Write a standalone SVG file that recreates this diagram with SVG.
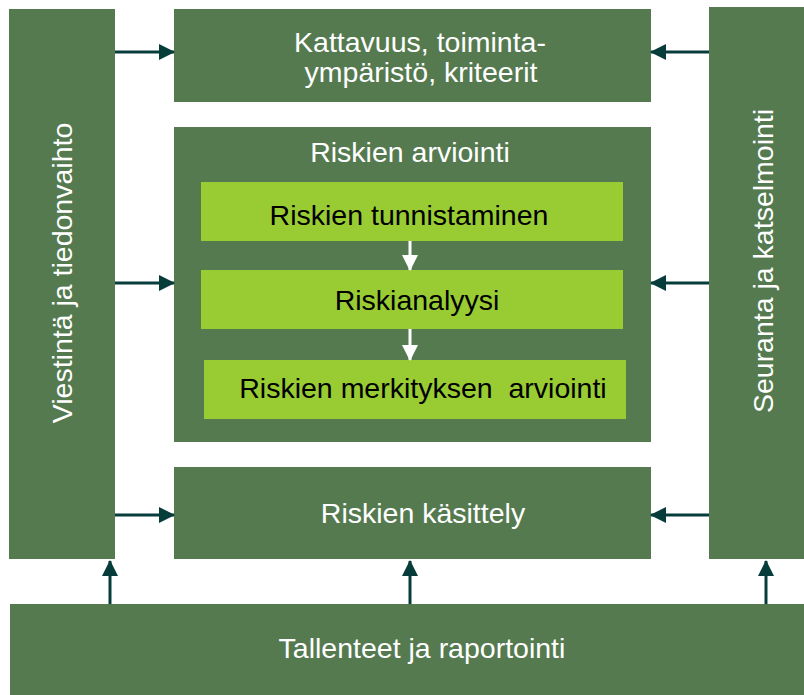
<svg xmlns="http://www.w3.org/2000/svg" width="804" height="695" viewBox="0 0 804 695">
  <style>
    .box { fill: #557a50; }
    .step { fill: #99cc33; }
    .lbl { font-family: "Liberation Sans", Arial, sans-serif; font-size: 28.5px; fill: #ffffff; text-anchor: middle; }
    .dark { fill: #000000; }
    .conn { stroke: #063c3a; stroke-width: 3; fill: none; }
    .flow { stroke: #ffffff; stroke-width: 3; fill: none; }
  </style>
  <defs>
    <marker id="ah" markerUnits="userSpaceOnUse" markerWidth="16" markerHeight="16" refX="15" refY="8" orient="auto">
      <path d="M0,0 L16,8 L0,16 Z" fill="#063c3a"/>
    </marker>
    <marker id="ahw" markerUnits="userSpaceOnUse" markerWidth="16" markerHeight="16" refX="15" refY="8" orient="auto">
      <path d="M0,0 L16,8 L0,16 Z" fill="#ffffff"/>
    </marker>
  </defs>
  <rect width="804" height="695" fill="#ffffff"/>

  <g id="viestinta">
    <rect class="box" x="9" y="9" width="106" height="550"/>
    <text class="lbl" transform="translate(72,273) rotate(-90)">Viestintä ja tiedonvaihto</text>
  </g>
  <g id="seuranta">
    <rect class="box" x="709" y="7" width="95" height="552"/>
    <text class="lbl" transform="translate(773,261) rotate(-90)">Seuranta ja katselmointi</text>
  </g>
  <g id="kattavuus">
    <rect class="box" x="174" y="9" width="477" height="93"/>
    <text class="lbl" x="420" y="52">Kattavuus, toiminta-</text>
    <text class="lbl" x="421" y="82">ympäristö, kriteerit</text>
  </g>
  <g id="arviointi">
    <rect class="box" x="174" y="127" width="477" height="315"/>
    <text class="lbl" x="410" y="162">Riskien arviointi</text>
  </g>
  <g id="tunnistaminen">
    <rect class="step" x="201" y="182" width="422" height="59"/>
    <text class="lbl dark" x="409" y="225">Riskien tunnistaminen</text>
  </g>
  <g id="analyysi">
    <rect class="step" x="201" y="270" width="422" height="59"/>
    <text class="lbl dark" x="417" y="310">Riskianalyysi</text>
  </g>
  <g id="merkitys">
    <rect class="step" x="204" y="360" width="422" height="59"/>
    <text class="lbl dark" x="423" y="398" xml:space="preserve">Riskien merkityksen  arviointi</text>
  </g>
  <g id="kasittely">
    <rect class="box" x="174" y="467" width="477" height="92"/>
    <text class="lbl" x="423" y="523">Riskien käsittely</text>
  </g>
  <g id="tallenteet">
    <rect class="box" x="10" y="604" width="794" height="91"/>
    <text class="lbl" x="422" y="658">Tallenteet ja raportointi</text>
  </g>

  <g id="connectors">
    <line class="conn" x1="115" y1="52" x2="174" y2="52" marker-end="url(#ah)"/>
    <line class="conn" x1="115" y1="283" x2="174" y2="283" marker-end="url(#ah)"/>
    <line class="conn" x1="115" y1="515" x2="174" y2="515" marker-end="url(#ah)"/>
    <line class="conn" x1="709" y1="52" x2="651" y2="52" marker-end="url(#ah)"/>
    <line class="conn" x1="709" y1="283" x2="651" y2="283" marker-end="url(#ah)"/>
    <line class="conn" x1="709" y1="515" x2="651" y2="515" marker-end="url(#ah)"/>
    <line class="conn" x1="110" y1="604" x2="110" y2="561" marker-end="url(#ah)"/>
    <line class="conn" x1="410" y1="604" x2="410" y2="561" marker-end="url(#ah)"/>
    <line class="conn" x1="766" y1="604" x2="766" y2="561" marker-end="url(#ah)"/>
    <line class="flow" x1="410" y1="241" x2="410" y2="270" marker-end="url(#ahw)"/>
    <line class="flow" x1="410" y1="329" x2="410" y2="360" marker-end="url(#ahw)"/>
  </g>
</svg>
